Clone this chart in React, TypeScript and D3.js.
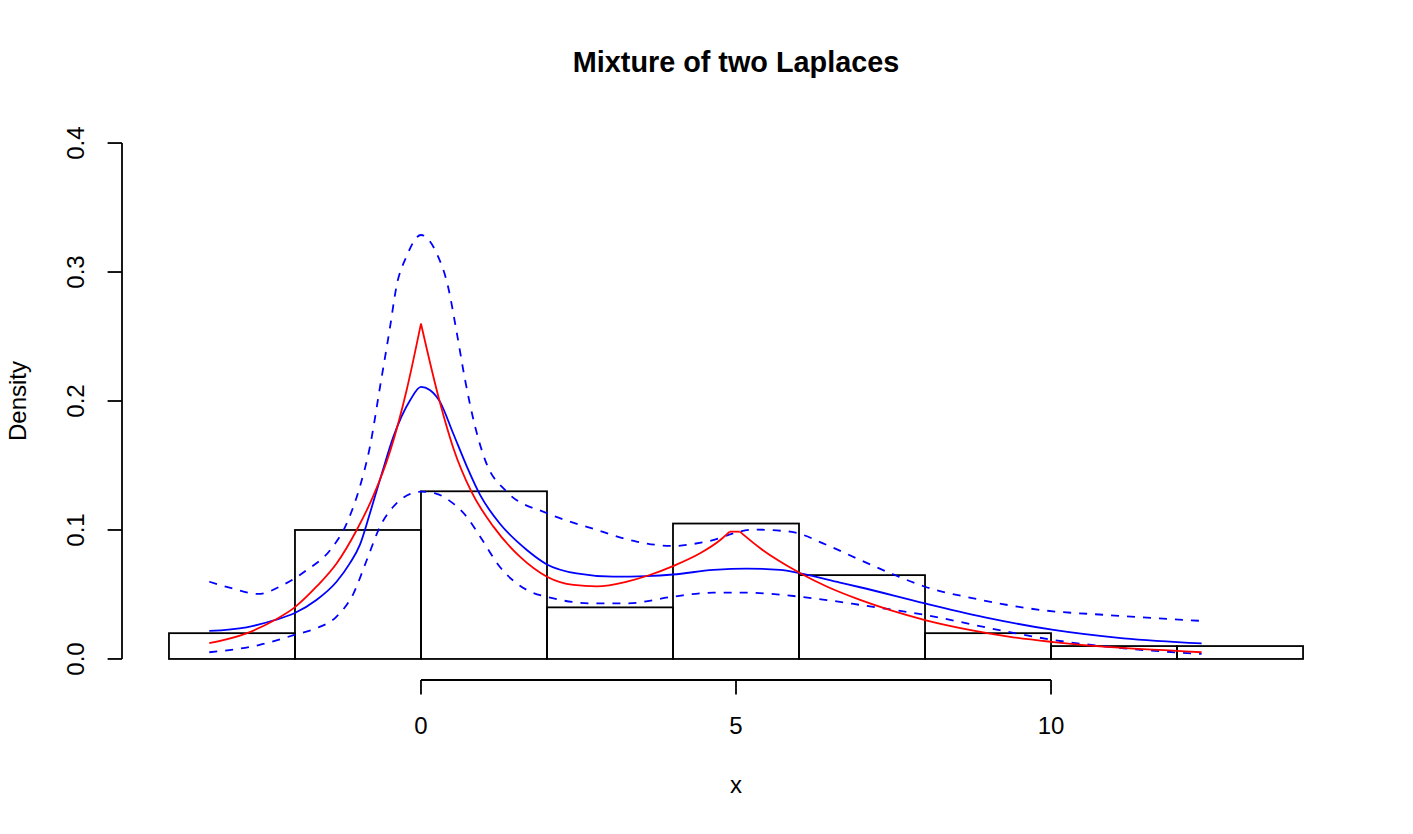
import React, { useEffect, useRef } from "react";
import * as d3 from "d3";

// histogram (density scale)
const histBreaks = [-4, -2, 0, 2, 4, 6, 8, 10, 12, 14];
const histDensity = [0.02, 0.1, 0.13, 0.04, 0.105, 0.065, 0.02, 0.01, 0.01];

// true mixture density (red)
const trueX = [-3.36, -2.77, -2.32, -2.01, -1.66, -1.34, -1.02, -0.76, -0.49, -0.23, 0,
  0.3, 0.51, 0.8, 1.15, 1.57, 2.0, 2.42, 2.79, 3.27, 3.63, 4.0, 4.43, 4.75, 4.9,
  5.06, 5.38, 5.7, 6.02, 6.44, 6.97, 8.0, 8.77, 9.4, 10.04, 10.88, 11.94, 12.39];
const trueY = [0.0122, 0.0199, 0.0302, 0.0398, 0.056, 0.074, 0.1, 0.126, 0.161, 0.208, 0.26,
  0.199, 0.164, 0.1297, 0.1026, 0.0793, 0.0638, 0.0574, 0.0563, 0.06, 0.0651, 0.072, 0.0819, 0.0922, 0.0987,
  0.0987, 0.086, 0.0755, 0.0665, 0.0562, 0.0458, 0.0302, 0.022, 0.0168, 0.0131, 0.0093, 0.0064, 0.0052];
// x values where the true density is not smooth
const trueKinks = [0, 4.9, 5.06];

// estimated density (blue)
const fitX = [-3.36, -2.77, -2.32, -2.01, -1.66, -1.34, -1.13, -0.97, -0.81, -0.62, -0.44, -0.17, 0,
  0.14, 0.3, 0.51, 0.73, 0.94, 1.25, 1.68, 2.0, 2.47, 3.05, 3.58, 4.0, 4.64, 5.17, 5.7, 6.02,
  6.65, 6.97, 8.0, 9.03, 10.04, 11.15, 12.39];
const fitY = [0.0217, 0.0245, 0.0302, 0.0354, 0.0457, 0.0599, 0.0741, 0.0884, 0.113, 0.144, 0.172, 0.2008, 0.211,
  0.2085, 0.1995, 0.175, 0.149, 0.127, 0.105, 0.0845, 0.0733, 0.0663, 0.0638, 0.0643, 0.0655, 0.069, 0.0701, 0.069, 0.0663,
  0.0592, 0.0556, 0.0431, 0.0315, 0.0225, 0.016, 0.0121];

// upper and lower bands (blue dashed)
const upperX = [-3.36, -2.98, -2.58, -2.19, -1.81, -1.44, -1.18, -0.97, -0.81, -0.65, -0.49, -0.39, -0.23, 0,
  0.25, 0.43, 0.57, 0.7, 0.86, 1.02, 1.36, 2.0, 2.73, 3.42, 4.0, 4.53, 5.28, 5.86, 6.44, 6.97,
  7.52, 8.0, 8.77, 9.83, 10.88, 12.39];
const upperY = [0.0599, 0.0545, 0.0504, 0.0574, 0.069, 0.0845, 0.105, 0.1336, 0.1646, 0.211, 0.2576, 0.2886, 0.312, 0.3287,
  0.3144, 0.2886, 0.2524, 0.2163, 0.18, 0.154, 0.1297, 0.113, 0.101, 0.091, 0.0876, 0.091, 0.1003, 0.0987, 0.0884, 0.0767,
  0.0651, 0.056, 0.047, 0.038, 0.0341, 0.0295];
const lowerX = [-3.36, -2.56, -2.01, -1.66, -1.34, -1.07, -0.86, -0.65, -0.44, -0.17, 0,
  0.25, 0.51, 0.73, 0.94, 1.25, 1.68, 2.05, 2.73, 3.27, 4.0, 4.64, 5.17, 5.91, 6.44, 6.97,
  8.0, 9.3, 10.04, 11.15, 12.39];
const lowerY = [0.0052, 0.0109, 0.0186, 0.0238, 0.0328, 0.0509, 0.0767, 0.1026, 0.118, 0.128, 0.1297,
  0.128, 0.1206, 0.11, 0.0948, 0.0715, 0.0535, 0.0476, 0.0431, 0.0431, 0.0483, 0.0514, 0.0514, 0.0488, 0.0457, 0.0419,
  0.0341, 0.0212, 0.0147, 0.0083, 0.0039];

const xTicks = [0, 5, 10];
const yTicks = [0, 0.1, 0.2, 0.3, 0.4];
const yTickLabels = ["0.0", "0.1", "0.2", "0.3", "0.4"];

const W = 1413;
const H = 834;
const FONT = "'Liberation Sans', Arial, Helvetica, sans-serif";

const App = () => {
  const ref = useRef(null);

  useEffect(() => {
    const svg = d3.select(ref.current);
    svg.selectAll("*").remove();

    // R style 4% padding on both axes
    const x0 = histBreaks[0], x1 = histBreaks[histBreaks.length - 1];
    const xPad = (x1 - x0) * 0.04;
    const yPad = 0.4 * 0.04;
    const x = d3.scaleLinear().domain([x0 - xPad, x1 + xPad]).range([123.6, 1348.4]);
    const y = d3.scaleLinear().domain([-yPad, 0.4 + yPad]).range([679.6, 122.4]);

    // histogram bars
    svg.append("g")
      .selectAll("rect")
      .data(histDensity)
      .enter()
      .append("rect")
      .attr("x", (d, i) => x(histBreaks[i]))
      .attr("y", d => y(d))
      .attr("width", (d, i) => x(histBreaks[i + 1]) - x(histBreaks[i]))
      .attr("height", d => y(0) - y(d))
      .attr("fill", "none")
      .attr("stroke", "black")
      .attr("stroke-width", 1.8);

    const line = d3.line()
      .x(d => x(d[0]))
      .y(d => y(d[1]))
      .curve(d3.curveMonotoneX);

    const zip = (xs, ys) => xs.map((v, i) => [v, ys[i]]);

    const drawCurve = (pts, color, dash) => {
      svg.append("path")
        .datum(pts)
        .attr("d", line)
        .attr("fill", "none")
        .attr("stroke", color)
        .attr("stroke-width", 1.8)
        .attr("stroke-dasharray", dash);
    };

    drawCurve(zip(upperX, upperY), "#0000ff", "8,8");
    drawCurve(zip(lowerX, lowerY), "#0000ff", "8,8");
    drawCurve(zip(fitX, fitY), "#0000ff", null);

    // red curve split at its kinks so the peaks stay sharp
    const truePts = zip(trueX, trueY);
    let seg = [];
    truePts.forEach(p => {
      seg.push(p);
      if (trueKinks.includes(p[0]) && seg.length > 1) {
        if (seg.length === 2) {
          svg.append("path").datum(seg)
            .attr("d", d3.line().x(d => x(d[0])).y(d => y(d[1])))
            .attr("fill", "none").attr("stroke", "#ff0000").attr("stroke-width", 1.8);
        } else {
          drawCurve(seg, "#ff0000", null);
        }
        seg = [p];
      }
    });
    if (seg.length > 1) drawCurve(seg, "#ff0000", null);

    // x axis
    const ax = svg.append("g").attr("stroke", "black").attr("stroke-width", 1.8);
    const axisY = 680;
    ax.append("line")
      .attr("x1", x(xTicks[0])).attr("x2", x(xTicks[xTicks.length - 1]))
      .attr("y1", axisY).attr("y2", axisY);
    ax.selectAll(".xt")
      .data(xTicks)
      .enter()
      .append("line")
      .attr("x1", d => x(d)).attr("x2", d => x(d))
      .attr("y1", axisY).attr("y2", axisY + 14.4);

    svg.selectAll(".xl")
      .data(xTicks)
      .enter()
      .append("text")
      .attr("x", d => x(d))
      .attr("y", 734)
      .attr("text-anchor", "middle")
      .attr("font-family", FONT)
      .attr("font-size", 24)
      .text(d => d);

    // y axis
    const axisX = 122;
    ax.append("line")
      .attr("x1", axisX).attr("x2", axisX)
      .attr("y1", y(yTicks[0])).attr("y2", y(yTicks[yTicks.length - 1]));
    ax.selectAll(".yt")
      .data(yTicks)
      .enter()
      .append("line")
      .attr("x1", axisX).attr("x2", axisX - 14.4)
      .attr("y1", d => y(d)).attr("y2", d => y(d));

    svg.selectAll(".yl")
      .data(yTicks)
      .enter()
      .append("text")
      .attr("transform", d => `translate(84, ${y(d)}) rotate(-90)`)
      .attr("text-anchor", "middle")
      .attr("font-family", FONT)
      .attr("font-size", 24)
      .text((d, i) => yTickLabels[i]);

    // labels and title
    svg.append("text")
      .attr("x", 736)
      .attr("y", 793)
      .attr("text-anchor", "middle")
      .attr("font-family", FONT)
      .attr("font-size", 24)
      .text("x");

    svg.append("text")
      .attr("transform", `translate(26, ${y(0.2)}) rotate(-90)`)
      .attr("text-anchor", "middle")
      .attr("font-family", FONT)
      .attr("font-size", 24)
      .text("Density");

    svg.append("text")
      .attr("x", 736)
      .attr("y", 72)
      .attr("text-anchor", "middle")
      .attr("font-family", FONT)
      .attr("font-size", 28.8)
      .attr("font-weight", "bold")
      .text("Mixture of two Laplaces");
  }, []);

  return (
    <svg
      ref={ref}
      width={W}
      height={H}
      style={{ position: "absolute", left: 0, top: 0, background: "white" }}
    />
  );
};

export default App;
